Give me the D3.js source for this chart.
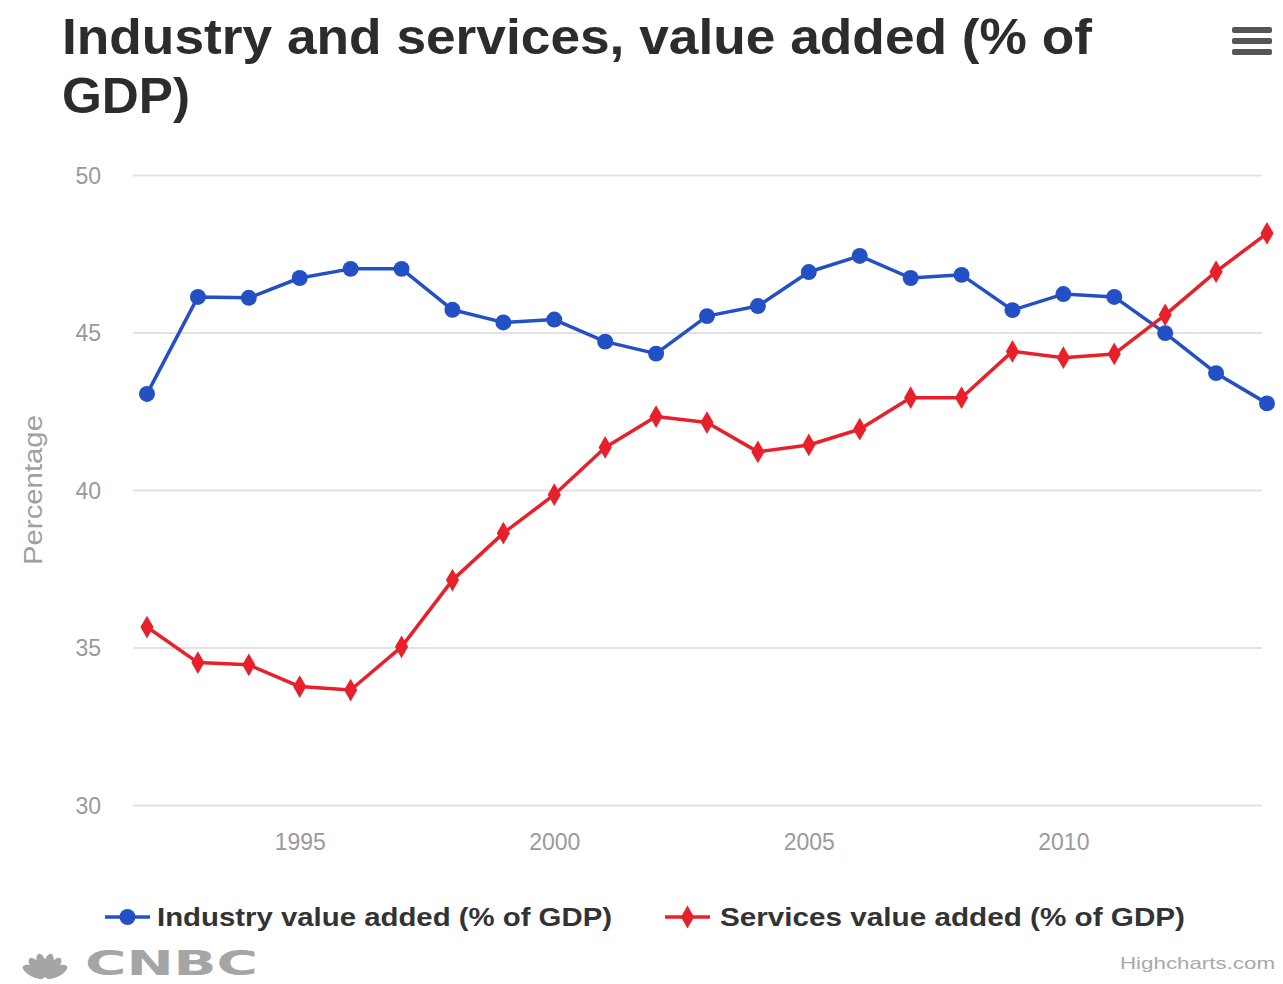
<!DOCTYPE html>
<html>
<head>
<meta charset="utf-8">
<script src="https://cdn.jsdelivr.net/npm/d3@7"></script>
<style>
  html, body { margin: 0; padding: 0; background: #fff; }
  svg { display: block; }
</style>
</head>
<body>
<script>
// Years on the x axis
const years = d3.range(1992, 2015);
// Industry value added (% of GDP)
const industry = [43.05, 46.13, 46.10, 46.73, 47.02, 47.02, 45.72, 45.32, 45.41, 44.71, 44.33,
                  45.52, 45.84, 46.92, 47.43, 46.73, 46.83, 45.71, 46.22, 46.13, 44.98, 43.71, 42.75];
// Services value added (% of GDP)
const services = [35.65, 34.52, 34.45, 33.76, 33.65, 35.02, 37.14, 38.63, 39.85, 41.35, 42.33,
                  42.14, 41.21, 41.43, 41.93, 42.93, 42.93, 44.40, 44.20, 44.32, 45.56, 46.93, 48.15];
const yTicks = [30, 35, 40, 45, 50];
const xTicks = [1995, 2000, 2005, 2010];
const seriesNames = ["Industry value added (% of GDP)", "Services value added (% of GDP)"];
const seriesColors = ["#2450c6", "#e8202b"];
const seriesSymbols = ["circle", "diamond"];

const W = 1283, H = 984;
const svg = d3.select("body").append("svg").attr("width", W).attr("height", H)
  .style("font-family", "'Liberation Sans', Arial, sans-serif");

// Title (two lines, condensed bold)
const title = svg.append("g").attr("fill", "#2c2c2c").attr("font-weight", "bold").attr("font-size", 50);
title.append("text").attr("x", 62).attr("y", 54)
  .attr("textLength", 1030).attr("lengthAdjust", "spacingAndGlyphs")
  .text("Industry and services, value added (% of");
title.append("text").attr("x", 62).attr("y", 113)
  .attr("textLength", 128).attr("lengthAdjust", "spacingAndGlyphs")
  .text("GDP)");

// Menu button
const menu = svg.append("g").attr("fill", "#555");
[0, 1, 2].forEach(i => {
  menu.append("rect").attr("x", 1232).attr("y", 27 + i * 11).attr("width", 40).attr("height", 6).attr("rx", 2);
});

// Scales
const plotLeft = 133, plotRight = 1262;
const x = d3.scaleLinear().domain([1992, 2014]).range([147, 1267]);
const y = d3.scaleLinear().domain([30, 50]).range([805, 175]);

// Y axis with gridlines
const yAxis = svg.append("g").attr("transform", `translate(${plotLeft},0)`)
  .call(d3.axisLeft(y).tickValues(yTicks).tickSize(-(plotRight - plotLeft)).tickPadding(32));
yAxis.select(".domain").remove();
yAxis.selectAll(".tick line").attr("stroke", "#e2e2e2").attr("stroke-width", 2);
yAxis.selectAll(".tick text").attr("fill", "#9a9a9a").attr("font-size", 23)
  .attr("font-family", "'Liberation Sans', Arial, sans-serif").attr("dy", "0.35em");

// X axis labels
const xAxis = svg.append("g").attr("transform", `translate(0,${y(30)})`)
  .call(d3.axisBottom(x).tickValues(xTicks).tickSize(0).tickFormat(d3.format("d")));
xAxis.select(".domain").remove();
xAxis.selectAll(".tick text").attr("fill", "#9a9a9a").attr("font-size", 23)
  .attr("font-family", "'Liberation Sans', Arial, sans-serif")
  .attr("y", 37).attr("dy", "0.35em");

// Y axis title
svg.append("text").attr("transform", "translate(35,490) rotate(-90)")
  .attr("text-anchor", "middle").attr("dominant-baseline", "middle")
  .attr("fill", "#a0a0a0").attr("font-size", 25)
  .attr("textLength", 150).attr("lengthAdjust", "spacingAndGlyphs")
  .text("Percentage");

// Series lines and markers
const seriesData = [industry, services];
const line = d3.line().x((d, i) => x(years[i])).y(d => y(d));
const symbolFor = s => s === "circle" ? d3.symbolCircle : d3.symbolDiamond;

seriesData.forEach((vals, k) => {
  const g = svg.append("g");
  g.append("path").datum(vals).attr("d", line)
    .attr("fill", "none").attr("stroke", seriesColors[k]).attr("stroke-width", 3.5)
    .attr("stroke-linejoin", "round");
  g.selectAll("path.pt").data(vals).join("path").attr("class", "pt")
    .attr("transform", (d, i) => `translate(${x(years[i])},${y(d)})`)
    .attr("d", d3.symbol().type(symbolFor(seriesSymbols[k])).size(seriesSymbols[k] === "circle" ? 200 : 150))
    .attr("fill", seriesColors[k]);
});

// Legend
const legendItems = [
  { sx: 105, tx: 157, tl: 455 },
  { sx: 665, tx: 720, tl: 465 }
];
legendItems.forEach((it, k) => {
  const g = svg.append("g").attr("transform", "translate(0,917)");
  g.append("line").attr("x1", it.sx).attr("x2", it.sx + 45).attr("y1", 0).attr("y2", 0)
    .attr("stroke", seriesColors[k]).attr("stroke-width", 3.5);
  g.append("path").attr("transform", `translate(${it.sx + 22.5},0)`)
    .attr("d", d3.symbol().type(symbolFor(seriesSymbols[k])).size(seriesSymbols[k] === "circle" ? 200 : 150))
    .attr("fill", seriesColors[k]);
  g.append("text").attr("x", it.tx).attr("y", 0).attr("dy", "0.35em")
    .attr("fill", "#333").attr("font-weight", "bold").attr("font-size", 25)
    .attr("textLength", it.tl).attr("lengthAdjust", "spacingAndGlyphs")
    .text(seriesNames[k]);
});

// CNBC logo (peacock feathers + wordmark)
const logo = svg.append("g").attr("fill", "#a5a5a5");
const feathers = [-62, -38, -14, 14, 38, 62];
feathers.forEach(a => {
  logo.append("ellipse").attr("cx", 0).attr("cy", -13).attr("rx", 5).attr("ry", 12)
    .attr("transform", `translate(45,978) rotate(${a})`);
});
logo.append("text").attr("x", 85).attr("y", 975)
  .attr("font-weight", "bold").attr("font-size", 33)
  .attr("font-family", "'DejaVu Sans', Arial, sans-serif")
  .attr("textLength", 173).attr("lengthAdjust", "spacingAndGlyphs")
  .text("CNBC");

// Credits
svg.append("text").attr("x", 1275).attr("y", 963).attr("text-anchor", "end").attr("dy", "0.35em")
  .attr("fill", "#a8a8a8").attr("font-size", 17)
  .attr("textLength", 155).attr("lengthAdjust", "spacingAndGlyphs")
  .text("Highcharts.com");
</script>
</body>
</html>
